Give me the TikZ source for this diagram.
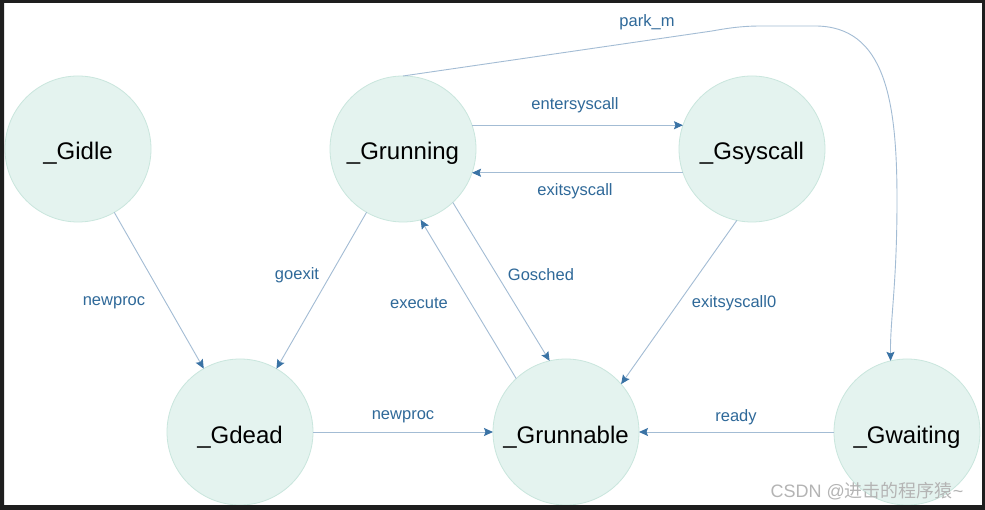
\documentclass[tikz,border=0pt]{standalone}
\usepackage{fontspec}
\setmainfont{Liberation Sans}
\newfontfamily\cjkfont{Noto Sans CJK SC}
\usepackage{xcolor}
\usepackage{tikz}
\usetikzlibrary{arrows.meta}

\definecolor{gfill}{HTML}{E4F3EF}
\definecolor{gline}{HTML}{C9E6DD}
\definecolor{eline}{HTML}{A3BCD4}
\definecolor{tipblue}{HTML}{3A73A5}
\definecolor{lblue}{HTML}{2F6999}
\definecolor{frame}{HTML}{1E1E1E}
\definecolor{wmark}{HTML}{B4B4B4}

\tikzset{
  gstate/.style={circle, draw=gline, fill=gfill, line width=0.8pt,
    minimum size=146pt, text height=22pt, text depth=0pt,
    font=\fontsize{24}{28}\selectfont},
  gedge/.style={draw=eline, line width=0.9pt,
    -{Stealth[length=9pt, width=8pt, inset=1.5pt, color=tipblue]}},
  glabel/.style={text=lblue, font=\fontsize{16.5}{19}\selectfont},
}

\begin{document}
\begin{tikzpicture}[x=1pt, y=1pt, yscale=-1, inner sep=0pt, outer sep=0pt]
  \useasboundingbox (0,0) rectangle (985,510);
  \fill[white] (0,0) rectangle (985,510);

  % states
  \node[gstate] (gidle) at (78,149) {\_Gidle};
  \node[gstate] (grun)  at (403,149) {\_Grunning};
  \node[gstate] (gsys)  at (752,149) {\_Gsyscall};
  \node[gstate] (gdead) at (240,432) {\_Gdead};
  \node[gstate] (gable) at (566,432) {\_Grunnable};
  \node[gstate] (gwait) at (907,432) {\_Gwaiting};

  % transitions
  \draw[gedge] (grun.19) -- (gsys.161);
  \draw[gedge] (gsys.199) -- (grun.-19);
  \draw[gedge] (gidle) -- (gdead);
  \draw[gedge] (grun) -- (gdead);
  \draw[gedge] (gable.133) -- (grun.-76);
  \draw[gedge] (grun.-47) -- (gable.103);
  \draw[gedge] (gsys.-102) -- (gable.41);
  \draw[gedge] (gdead) -- (gable);
  \draw[gedge] (gwait) -- (gable);
  \draw[gedge] (grun.north) -- (712,31) .. controls (734,27) and (746,26) .. (762,26)
    -- (815,26) .. controls (885,26) and (897,100) .. (897,200)
    .. controls (897,285) and (890,320) .. (gwait.103);

  % labels
  \node[glabel] (lpark)  at (647,22)  {park\_m};
  \node[glabel] (lenter) at (575,105) {entersyscall};
  \node[glabel] (lexit)  at (575,191) {exitsyscall};
  \node[glabel] (lnew1)  at (114,303) {newproc};
  \node[glabel] (lgoex)  at (297,275) {goexit};
  \node[glabel] (lexec)  at (419,303) {execute};
  \node[glabel] (lsched) at (541,275) {Gosched};
  \node[glabel] (lexit0) at (734,303) {exitsyscall0};
  \node[glabel] (lnew2)  at (403,417) {newproc};
  \node[glabel] (lready) at (736,417) {ready};

  \node[text=wmark, font=\fontsize{18}{21}\selectfont] (wm) at (867,491)
    {CSDN @{\cjkfont 进击的程序猿}\textasciitilde};

  % screen frame
  \fill[frame, even odd rule] (0,0) rectangle (985,510) (4,3) rectangle (982,505);
\end{tikzpicture}
\end{document}
